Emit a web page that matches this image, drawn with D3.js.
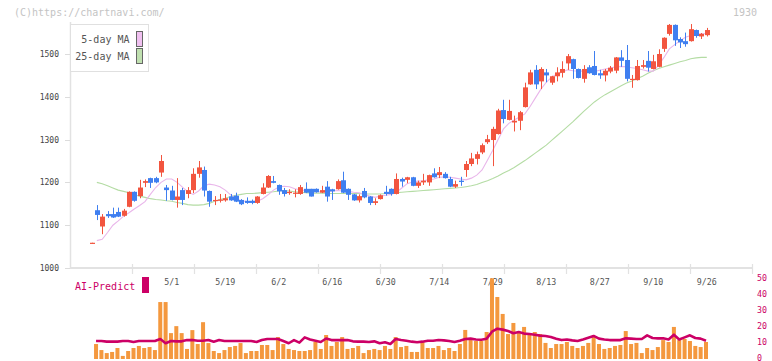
<!DOCTYPE html>
<html><head><meta charset="utf-8">
<script src="https://cdn.jsdelivr.net/npm/d3@7/dist/d3.min.js"></script>
<style>body{margin:0;background:#fff}svg{display:block}</style>
</head><body><svg id="c" width="772" height="361"></svg>
<script>
const dates = ["4/9","4/10","4/11","4/14","4/15","4/16","4/17","4/18","4/21","4/22","4/23","4/24","4/25","4/28","4/30",
"5/1","5/2","5/7","5/8","5/9","5/12","5/13","5/14","5/15","5/16","5/19","5/20","5/21","5/22","5/23","5/26","5/27","5/28","5/29","5/30",
"6/2","6/3","6/4","6/5","6/6","6/9","6/10","6/11","6/12","6/13","6/16","6/17","6/18","6/19","6/20","6/23","6/24","6/25","6/26","6/27","6/30",
"7/1","7/2","7/3","7/4","7/7","7/8","7/9","7/10","7/11","7/14","7/15","7/16","7/17","7/18","7/22","7/23","7/24","7/25","7/28","7/29","7/30","7/31",
"8/1","8/4","8/5","8/6","8/7","8/8","8/12","8/13","8/14","8/15","8/18","8/19","8/20","8/21","8/22","8/25","8/26","8/27","8/28","8/29",
"9/1","9/2","9/3","9/4","9/5","9/8","9/9","9/10","9/11","9/12","9/16","9/17","9/18","9/19","9/22","9/24","9/25","9/26"];
const open  = [1057,1135,1097,1126,1126,1131,1122,1143,1178,1168,1199,1210,1210,1223,1188,1181,1159,1182,1173,1182,1220,1229,1180,1157,1157,1158,1167,1169,1159,1157,1157,1152,1173,1188,1203,1194,1182,1175,1174,1173,1185,1185,1185,1176,1190,1184,1184,1205,1185,1172,1158,1180,1167,1152,1161,1178,1185,1173,1208,1206,1212,1192,1200,1200,1221,1217,1220,1208,1190,1204,1229,1243,1255,1270,1294,1299,1313,1369,1346,1340,1344,1376,1429,1463,1436,1457,1433,1448,1456,1478,1488,1465,1442,1469,1472,1455,1450,1459,1461,1492,1486,1440,1439,1470,1484,1465,1470,1512,1547,1568,1535,1530,1530,1556,1541,1544];
const high  = [1059,1147,1126,1133,1141,1141,1138,1179,1179,1206,1207,1211,1213,1264,1194,1192,1210,1187,1189,1233,1250,1237,1181,1168,1173,1173,1173,1176,1161,1165,1160,1168,1198,1217,1215,1195,1187,1184,1184,1194,1200,1185,1186,1192,1203,1185,1207,1225,1186,1173,1172,1187,1168,1163,1172,1192,1186,1221,1211,1213,1213,1204,1220,1218,1233,1236,1224,1213,1204,1213,1250,1269,1272,1291,1311,1330,1372,1393,1393,1356,1367,1433,1463,1474,1469,1465,1449,1469,1483,1500,1489,1466,1474,1474,1507,1463,1465,1472,1493,1509,1521,1451,1486,1486,1507,1498,1511,1539,1570,1569,1539,1550,1570,1557,1549,1561];
const low   = [1057,1112,1079,1117,1117,1119,1120,1142,1155,1163,1189,1187,1198,1213,1157,1158,1141,1147,1163,1175,1211,1167,1143,1147,1153,1155,1157,1154,1147,1150,1149,1150,1172,1187,1198,1171,1167,1171,1165,1171,1175,1167,1176,1175,1155,1159,1183,1175,1159,1157,1153,1163,1147,1147,1160,1169,1169,1172,1190,1198,1191,1187,1194,1192,1211,1210,1209,1189,1187,1192,1213,1238,1242,1266,1290,1238,1312,1338,1345,1319,1322,1375,1428,1418,1418,1434,1428,1436,1445,1463,1442,1443,1433,1454,1450,1442,1436,1455,1455,1470,1436,1421,1438,1466,1459,1464,1469,1505,1543,1519,1514,1517,1529,1538,1535,1541];
const close = [1059,1124,1120,1121,1118,1120,1134,1178,1157,1188,1203,1199,1200,1250,1182,1159,1167,1159,1182,1220,1235,1181,1155,1159,1160,1163,1158,1155,1149,1152,1152,1167,1188,1215,1199,1179,1173,1178,1176,1189,1176,1167,1177,1182,1167,1179,1203,1176,1171,1158,1168,1165,1152,1156,1170,1173,1173,1208,1202,1212,1192,1200,1204,1217,1212,1224,1210,1190,1196,1201,1243,1256,1266,1287,1301,1325,1368,1348,1367,1344,1364,1422,1457,1429,1465,1450,1448,1457,1465,1495,1465,1444,1465,1455,1451,1450,1461,1468,1492,1484,1442,1442,1472,1474,1468,1483,1500,1538,1568,1532,1527,1523,1558,1542,1547,1556];
const ma5 = [null,1064,1067,1083,1100,1110,1121,1129,1138,1146,1155,1172,1188,1200,1208,1208,1200,1189,1178,1172,1180,1192,1196,1194,1190,1182,1171,1162,1157,1155,1155,1156,1162,1171,1182,1189,1191,1190,1185,1183,1181,1179,1178,1178,1178,1180,1181,1180,1179,1177,1176,1172,1168,1165,1168,1170,1172,1177,1187,1197,1201,1203,1204,1206,1208,1212,1213,1212,1210,1208,1206,1210,1217,1229,1252,1275,1300,1325,1338,1346,1353,1360,1378,1398,1418,1434,1446,1453,1458,1463,1461,1460,1460,1459,1459,1462,1465,1467,1470,1471,1470,1468,1466,1463,1460,1460,1474,1492,1512,1522,1531,1539,1543,1546,1547,1548];
const ma25 = [null,1200,1197,1192,1187,1182,1179,1176,1171,1168,1165,1162,1160,1159,1157,1156,1153,1151,1148,1147,1147,1148,1151,1156,1160,1163,1167,1170,1172,1174,1174,1175,1176,1177,1178,1180,1181,1180,1178,1177,1176,1175,1175,1175,1174,1174,1174,1174,1174,1174,1174,1173,1173,1173,1173,1174,1175,1176,1177,1178,1179,1180,1181,1182,1183,1184,1185,1186,1187,1188,1190,1192,1195,1200,1204,1209,1215,1222,1228,1235,1243,1251,1260,1269,1278,1287,1298,1309,1320,1331,1342,1354,1366,1377,1388,1397,1405,1412,1419,1426,1432,1437,1443,1448,1455,1461,1466,1470,1474,1478,1482,1485,1489,1491,1492,1492];
const volume = [null,8.5,4.7,2.8,3.5,6.0,1.0,4.1,6.0,7.3,6.0,6.6,4.7,35,35,15.4,19.8,15.4,5.4,17.3,8.5,22.3,9.1,4.1,2.8,4.7,6.6,7.3,9.1,2.8,4.1,4.1,7.9,7.9,4.7,12.9,8.5,5.4,4.7,4.1,4.1,4.7,9.8,5.4,14.2,7.3,9.8,12.9,5.4,6.0,7.3,2.8,4.7,5.4,4.7,7.3,5.4,12.9,6.6,7.3,3.5,3.5,9.8,6.0,6.0,7.3,4.7,6.0,4.1,8.5,17.4,11.0,10.4,10.4,16.1,50,38.2,27.5,14.8,21.8,16.1,19.3,14.8,16.1,14.8,9.2,6.0,8.5,8.5,9.8,7.3,6.0,7.3,9.2,13.6,8.5,5.4,6.0,7.3,7.9,16.7,8.5,9.2,2.8,6.0,4.7,6.6,11.0,9.8,19.3,11.0,11.7,10.4,7.3,6.6,9.8];
const aiPredict = [null,10.4,10.4,10.0,10.0,10.0,10.4,10.4,9.8,10.4,10.4,10.4,10.4,11.7,9.0,10.4,10.2,10.2,11.0,11.0,10.6,10.6,11.0,10.0,11.0,10.4,10.4,10.4,10.4,10.4,10.4,9.8,11.0,11.7,11.7,11.7,10.4,9.0,11.0,9.4,12.7,11.4,10.6,9.8,12.0,11.0,11.0,11.0,11.0,10.2,10.0,10.0,9.8,10.2,9.0,9.6,8.5,11.7,11.0,10.6,10.0,9.6,10.0,10.6,10.6,11.0,10.8,10.4,9.8,10.6,11.7,11.9,11.4,11.2,11.9,16.3,18.2,17.6,16.7,15.3,16.1,15.1,14.8,14.4,13.8,13.6,13.0,11.9,11.0,11.4,10.8,10.4,11.4,12.5,13.6,11.9,11.4,11.0,11.0,11.0,12.1,11.9,11.7,11.7,14.0,12.3,12.1,12.1,11.4,14.4,11.4,12.7,14.0,12.3,11.9,10.6];
const priceTicks = [1000,1100,1200,1300,1400,1500];
const volTicks = [0,10,20,30,40,50];
const dateLabels = ["5/1","5/19","6/2","6/16","6/30","7/14","7/29","8/13","8/27","9/10","9/26"];
const gridTicks = [1,2,3,4,5,6,7,8,9,10,11];

const svg = d3.select("#c");
const FONT = "'DejaVu Sans Mono', monospace";
const UP = "#f2553f", DOWN = "#3f7ff0";

const x = d3.scalePoint().domain(dates).range([91.5, 706.8]);
const y = d3.scaleLinear().domain([1000, 1500]).range([268, 54]);
const yv = d3.scaleLinear().domain([0, 50]).range([357.5, 278.3]);
const g = d3.scaleLinear().domain([0, 11]).range([70, 752]);

// header texts
svg.append("text").attr("x", 14).attr("y", 16).attr("font-family", FONT).attr("font-size", 10)
  .attr("fill", "#c4c4c4").text("(C)https://chartnavi.com/");
svg.append("text").attr("x", 757).attr("y", 16).attr("text-anchor", "end").attr("font-family", FONT)
  .attr("font-size", 10).attr("fill", "#c4c4c4").text("1930");

// axes
svg.append("line").attr("x1", 70.5).attr("x2", 70.5).attr("y1", 22).attr("y2", 268)
  .attr("stroke", "#e2e2e2").attr("stroke-width", 1.5);
svg.append("line").attr("x1", 70).attr("x2", g(11)).attr("y1", 268).attr("y2", 268)
  .attr("stroke", "#e2e2e2").attr("stroke-width", 2);
svg.selectAll(".gt").data(gridTicks).join("line")
  .attr("x1", d => Math.round(g(d)) + 0.5).attr("x2", d => Math.round(g(d)) + 0.5)
  .attr("y1", 264).attr("y2", 274).attr("stroke", "#e2e2e2").attr("stroke-width", 1.2);
svg.selectAll(".yt").data(priceTicks).join("line")
  .attr("x1", 65).attr("x2", 70).attr("y1", d => Math.round(y(d)) + 0.5).attr("y2", d => Math.round(y(d)) + 0.5)
  .attr("stroke", "#dcdcdc");
svg.selectAll(".yl").data(priceTicks).join("text")
  .attr("x", 59).attr("y", d => y(d) + 3).attr("text-anchor", "end")
  .attr("font-family", FONT).attr("font-size", 8).attr("fill", "#444").text(d => d);
svg.selectAll(".xl").data(dateLabels).join("text")
  .attr("x", d => x(d)).attr("y", 285).attr("text-anchor", "middle")
  .attr("font-family", FONT).attr("font-size", 8.3).attr("fill", "#555").text(d => d);

// MA lines
const lineP = d3.line().defined(d => d.v != null).x(d => x(d.d)).y(d => y(d.v));
svg.append("path").datum(dates.map((d, i) => ({d, v: ma25[i]})))
  .attr("d", lineP).attr("fill", "none").attr("stroke", "#b4dca4").attr("stroke-width", 1.1);
svg.append("path").datum(dates.map((d, i) => ({d, v: ma5[i]})))
  .attr("d", lineP).attr("fill", "none").attr("stroke", "#e9b6ea").attr("stroke-width", 1.1);

// candles
const cd = dates.map((d, i) => ({d, o: open[i], h: high[i], l: low[i], c: close[i]}));
const cg = svg.append("g");
cg.selectAll(".wick").data(cd).join("line")
  .attr("x1", d => Math.round(x(d.d)) + 0.5).attr("x2", d => Math.round(x(d.d)) + 0.5)
  .attr("y1", d => y(d.h)).attr("y2", d => y(d.l))
  .attr("stroke", d => d.c >= d.o ? UP : DOWN).attr("stroke-width", 1);
cg.selectAll(".body").data(cd).join("rect")
  .attr("x", d => Math.round(x(d.d)) - 2).attr("width", 5)
  .attr("y", d => y(Math.max(d.o, d.c)))
  .attr("height", d => Math.max(1.2, Math.abs(y(d.o) - y(d.c))))
  .attr("fill", d => d.c >= d.o ? UP : DOWN);

// legend
svg.append("rect").attr("x", 70.5).attr("y", 24.5).attr("width", 78).attr("height", 47)
  .attr("fill", "#fff").attr("stroke", "#e0e0e0");
const legend = [{t: "5-day MA", c: "#f0c0f0", yy: 31}, {t: "25-day MA", c: "#c0e0b0", yy: 48}];
svg.selectAll(".lgt").data(legend).join("text")
  .attr("x", 129.5).attr("y", d => d.yy + 12).attr("text-anchor", "end")
  .attr("font-family", FONT).attr("font-size", 10).attr("fill", "#555").text(d => d.t);
svg.selectAll(".lgr").data(legend).join("rect")
  .attr("x", 136.5).attr("y", d => d.yy + 0.5).attr("width", 6).attr("height", 15)
  .attr("fill", d => d.c).attr("stroke", "#666").attr("stroke-width", 1);

// volume panel
const vd = dates.map((d, i) => ({d, v: volume[i]})).filter(d => d.v != null);
svg.selectAll(".vb").data(vd).join("rect")
  .attr("x", d => x(d.d) - 2.8).attr("width", 4)
  .attr("y", d => yv(d.v)).attr("height", d => 359 - yv(d.v))
  .attr("fill", "#f4983e");
const lineV = d3.line().defined(d => d.v != null).x(d => x(d.d) - 0.8).y(d => yv(d.v));
svg.append("path").datum(dates.map((d, i) => ({d, v: aiPredict[i]})))
  .attr("d", lineV).attr("fill", "none").attr("stroke", "#cc0066").attr("stroke-width", 2.6)
  .attr("stroke-linejoin", "round");
svg.selectAll(".vl").data(volTicks).join("text")
  .attr("x", 757).attr("y", d => yv(d) + 3).attr("font-family", FONT).attr("font-size", 8.3)
  .attr("fill", "#cc0066").text(d => d);
svg.append("text").attr("x", 75).attr("y", 290).attr("font-family", FONT).attr("font-size", 10)
  .attr("fill", "#cc0066").text("AI-Predict");
svg.append("rect").attr("x", 142).attr("y", 277).attr("width", 7).attr("height", 16).attr("fill", "#cc0066");
</script></body></html>
